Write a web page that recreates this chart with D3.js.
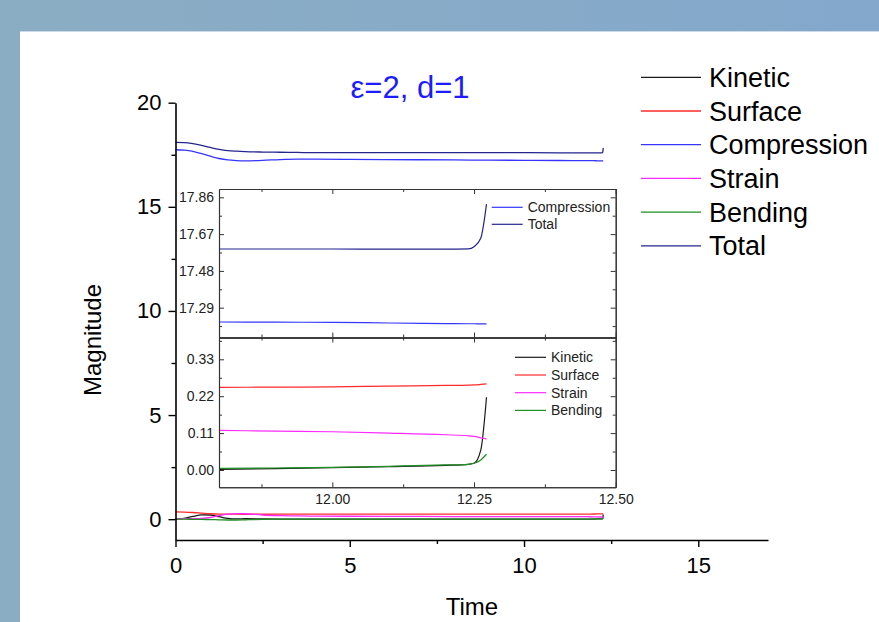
<!DOCTYPE html>
<html><head><meta charset="utf-8">
<script src="https://cdn.jsdelivr.net/npm/d3@7"></script>
<style>body{margin:0;background:#fff;} svg{display:block;} text{font-family:"Liberation Sans",Arial,sans-serif;}</style>
</head><body>
<svg id="c" width="879" height="622"></svg>
<script>
// ---------------- data ----------------
const time        = [0, 0.25, 0.5, 0.75, 1.0, 1.25, 1.5, 1.75, 2.0, 2.5, 3.0, 3.5, 4, 5, 6, 7, 8, 9, 10, 11, 11.8, 11.9, 12.0, 12.1, 12.2, 12.24, 12.25, 12.262, 12.272];
const kinetic     = [0.0, 0.04, 0.13, 0.21, 0.20, 0.12, 0.04, 0.01, 0.02, 0.01, 0.005, 0.004, 0.003, 0.003, 0.002, 0.002, 0.002, 0.002, 0.002, 0.002, 0.002, 0.004, 0.007, 0.010, 0.014, 0.017, 0.020, 0.060, 0.217];
const surface     = [0.35, 0.34, 0.32, 0.29, 0.26, 0.245, 0.24, 0.238, 0.237, 0.237, 0.238, 0.238, 0.239, 0.240, 0.240, 0.241, 0.242, 0.243, 0.243, 0.244, 0.2465, 0.247, 0.248, 0.250, 0.252, 0.253, 0.2535, 0.255, 0.2565];
const compression = [17.74, 17.72, 17.66, 17.55, 17.43, 17.32, 17.25, 17.22, 17.21, 17.23, 17.27, 17.29, 17.29, 17.28, 17.27, 17.26, 17.25, 17.24, 17.235, 17.225, 17.216, 17.215, 17.214, 17.211, 17.208, 17.207, 17.207, 17.206, 17.206];
const strain      = [0.03, 0.03, 0.03, 0.04, 0.08, 0.17, 0.24, 0.27, 0.26, 0.20, 0.17, 0.155, 0.148, 0.14, 0.135, 0.13, 0.127, 0.124, 0.122, 0.12, 0.118, 0.116, 0.114, 0.110, 0.105, 0.102, 0.100, 0.096, 0.0925];
const bending     = [0.0, 0.0, -0.005, -0.01, -0.02, -0.03, -0.04, -0.04, -0.03, -0.01, 0.0, 0.002, 0.002, 0.002, 0.002, 0.003, 0.003, 0.003, 0.004, 0.004, 0.005, 0.006, 0.008, 0.011, 0.015, 0.017, 0.020, 0.030, 0.047];
const total       = [18.09, 18.08, 18.03, 17.95, 17.85, 17.76, 17.70, 17.67, 17.65, 17.63, 17.62, 17.61, 17.60, 17.60, 17.60, 17.60, 17.60, 17.60, 17.60, 17.595, 17.593, 17.593, 17.593, 17.592, 17.592, 17.594, 17.605, 17.65, 17.825];

const seriesNames  = ["Kinetic", "Surface", "Compression", "Strain", "Bending", "Total"];
const seriesValues = [kinetic, surface, compression, strain, bending, total];
const seriesColors = ["#1a1a1a", "#ff2a2a", "#3535ff", "#ff2aff", "#1f8f1f", "#25258f"];

const titleText   = "ε=2, d=1";
const xLabel      = "Time";
const yLabel      = "Magnitude";
const mainXTicks  = [0, 5, 10, 15];
const mainXMinor  = [2.5, 7.5, 12.5];
const mainYTicks  = [0, 5, 10, 15, 20];
const mainYMinor  = [2.5, 7.5, 12.5, 17.5];
const insetXTicks = [12.00, 12.25, 12.50];
const insetXMinor = [11.875, 12.125, 12.375];
const insetTopYTicks = [17.29, 17.48, 17.67, 17.86];
const insetTopYMinor = [17.195, 17.385, 17.575, 17.765];
const insetBotYTicks = [0.00, 0.11, 0.22, 0.33];
const insetBotYMinor = [0.055, 0.165, 0.275, 0.385];
const insetTopSeries = ["Compression", "Total"];
const insetBotSeries = ["Kinetic", "Surface", "Strain", "Bending"];

// ---------------- drawing ----------------
const svg = d3.select("#c");
const defs = svg.append("defs");
const grad = defs.append("linearGradient").attr("id","bg").attr("x1","0").attr("x2","1").attr("y1","0").attr("y2","0");
grad.append("stop").attr("offset","0").attr("stop-color","#8badc3");
grad.append("stop").attr("offset","1").attr("stop-color","#84a8cc");
svg.append("rect").attr("width",879).attr("height",622).attr("fill","url(#bg)");
svg.append("rect").attr("x",20).attr("y",31).attr("width",859).attr("height",591).attr("fill","#fff");
svg.append("line").attr("x1",20).attr("x2",879).attr("y1",31.5).attr("y2",31.5).attr("stroke","#c9dbe8").attr("stroke-width",1);

const rows = time.map((t,i)=>{ const o={t}; seriesNames.forEach((n,j)=>o[n]=seriesValues[j][i]); return o; });
const colorOf = n => seriesColors[seriesNames.indexOf(n)];

// main scales
const x = d3.scaleLinear().domain([0,17]).range([175.5,768]);
const y = d3.scaleLinear().domain([-1,20]).range([540,102.7]);

const gMain = svg.append("g");
seriesNames.forEach(n=>{
  const line = d3.line().x(d=>x(d.t)).y(d=>y(d[n])).curve(d3.curveMonotoneX);
  gMain.append("path").datum(rows).attr("d",line).attr("fill","none")
    .attr("stroke",colorOf(n)).attr("stroke-width",1.3);
});

function styleAxis(g, fs, col){
  g.selectAll("path.domain").attr("stroke","#000").attr("stroke-width",1.6);
  g.selectAll(".tick line").attr("stroke","#000").attr("stroke-width",1.4);
  g.selectAll(".tick text").attr("font-size",fs).attr("fill",col||"#000").attr("font-family","Liberation Sans, Arial, sans-serif");
}
const xAx = svg.append("g").attr("transform","translate(0,540)")
  .call(d3.axisBottom(x).tickValues(mainXTicks).tickFormat(d3.format("d")).tickSize(7).tickSizeOuter(0).tickPadding(10));
styleAxis(xAx, 22);
const xAxMin = svg.append("g").attr("transform","translate(0,540)")
  .call(d3.axisBottom(x).tickValues(mainXMinor).tickFormat("").tickSize(4).tickSizeOuter(0));
styleAxis(xAxMin, 22); xAxMin.select("path.domain").remove();

const yAx = svg.append("g").attr("transform","translate(175.5,0)")
  .call(d3.axisLeft(y).tickValues(mainYTicks).tickFormat(d3.format("d")).tickSize(7).tickSizeOuter(0).tickPadding(7));
styleAxis(yAx, 22);
const yAxMin = svg.append("g").attr("transform","translate(175.5,0)")
  .call(d3.axisLeft(y).tickValues(mainYMinor).tickFormat("").tickSize(4).tickSizeOuter(0));
styleAxis(yAxMin, 22); yAxMin.select("path.domain").remove();

// titles
svg.append("text").attr("x",410).attr("y",98).attr("text-anchor","middle")
  .attr("font-size",31).attr("fill","#1c1cff").text(titleText);
svg.append("text").attr("x",472).attr("y",615).attr("text-anchor","middle")
  .attr("font-size",24).attr("fill","#000").text(xLabel);
svg.append("text").attr("transform","translate(101,340) rotate(-90)").attr("text-anchor","middle")
  .attr("font-size",24).attr("fill","#000").text(yLabel);

// main legend
const lg = svg.append("g");
seriesNames.forEach((n,i)=>{
  const yy = 77.3 + i*33.7;
  lg.append("line").attr("x1",641).attr("x2",701).attr("y1",yy).attr("y2",yy)
    .attr("stroke",colorOf(n)).attr("stroke-width",1.3);
  lg.append("text").attr("x",709).attr("y",yy+9.5).attr("font-size",27).attr("fill","#000").text(n);
});

// ---------------- inset ----------------
const xi = d3.scaleLinear().domain([11.8,12.5]).range([219,615.7]);
const yT = d3.scaleLinear().domain([17.136,17.903]).range([337.5,189]);
const yB = d3.scaleLinear().domain([-0.0516,0.395]).range([487.3,337.5]);
const inset = svg.append("g");
inset.append("rect").attr("x",219).attr("y",189).attr("width",615.7-219).attr("height",487.3-189)
  .attr("fill","#fff");

const insetRows = rows.filter(d=>d.t>=11.8);
function panelLines(names, ys){
  names.forEach(n=>{
    const line = d3.line().x(d=>xi(d.t)).y(d=>ys(d[n])).curve(d3.curveMonotoneX);
    inset.append("path").datum(insetRows).attr("d",line).attr("fill","none")
      .attr("stroke",colorOf(n)).attr("stroke-width",1.2);
  });
}
panelLines(insetTopSeries, yT);
panelLines(insetBotSeries, yB);

function insetStyle(g){
  g.selectAll("path.domain").attr("stroke","#333").attr("stroke-width",1.1);
  g.selectAll(".tick line").attr("stroke","#333").attr("stroke-width",1);
  g.selectAll(".tick text").attr("font-size",14).attr("fill","#222").attr("font-family","Liberation Sans, Arial, sans-serif");
}
function panelAxes(ys, yTicks, yMinor, top, bottom, showX){
  const inDom = v=>v>=ys.domain()[0]&&v<=ys.domain()[1];
  let g = inset.append("g").attr("transform","translate(219,0)")
    .call(d3.axisLeft(ys).tickValues(yTicks).tickFormat(d3.format(".2f")).tickSize(-5).tickSizeOuter(0).tickPadding(5));
  insetStyle(g);
  g = inset.append("g").attr("transform","translate(219,0)")
    .call(d3.axisLeft(ys).tickValues(yMinor.filter(inDom)).tickFormat("").tickSize(-3).tickSizeOuter(0));
  insetStyle(g);
  g = inset.append("g").attr("transform","translate(615.7,0)")
    .call(d3.axisRight(ys).tickValues(yTicks).tickFormat("").tickSize(-5).tickSizeOuter(0));
  insetStyle(g);
  g = inset.append("g").attr("transform","translate(615.7,0)")
    .call(d3.axisRight(ys).tickValues(yMinor.filter(inDom)).tickFormat("").tickSize(-3).tickSizeOuter(0));
  insetStyle(g);
  g = inset.append("g").attr("transform",`translate(0,${top})`)
    .call(d3.axisTop(xi).tickValues(insetXTicks).tickFormat("").tickSize(-5).tickSizeOuter(0));
  insetStyle(g);
  g = inset.append("g").attr("transform",`translate(0,${top})`)
    .call(d3.axisTop(xi).tickValues(insetXMinor).tickFormat("").tickSize(-3).tickSizeOuter(0));
  insetStyle(g);
  g = inset.append("g").attr("transform",`translate(0,${bottom})`)
    .call(d3.axisBottom(xi).tickValues(insetXTicks).tickFormat(showX?d3.format(".2f"):"").tickSize(-5).tickSizeOuter(0).tickPadding(7));
  insetStyle(g);
  g = inset.append("g").attr("transform",`translate(0,${bottom})`)
    .call(d3.axisBottom(xi).tickValues(insetXMinor).tickFormat("").tickSize(-3).tickSizeOuter(0));
  insetStyle(g);
}
panelAxes(yT, insetTopYTicks, insetTopYMinor, 189, 337.5, false);
panelAxes(yB, insetBotYTicks, insetBotYMinor, 337.5, 487.3, true);

// inset legends
function insetLegend(names, x0, y0, dy){
  names.forEach((n,i)=>{
    const yy = y0 + i*dy;
    inset.append("line").attr("x1",x0).attr("x2",x0+31).attr("y1",yy).attr("y2",yy)
      .attr("stroke",colorOf(n)).attr("stroke-width",1.2);
    inset.append("text").attr("x",x0+36).attr("y",yy+5).attr("font-size",14).attr("fill","#222").text(n);
  });
}
insetLegend(insetTopSeries, 491.7, 207.3, 17);
insetLegend(insetBotSeries, 515, 357.3, 17.7);
</script>
</body></html>
